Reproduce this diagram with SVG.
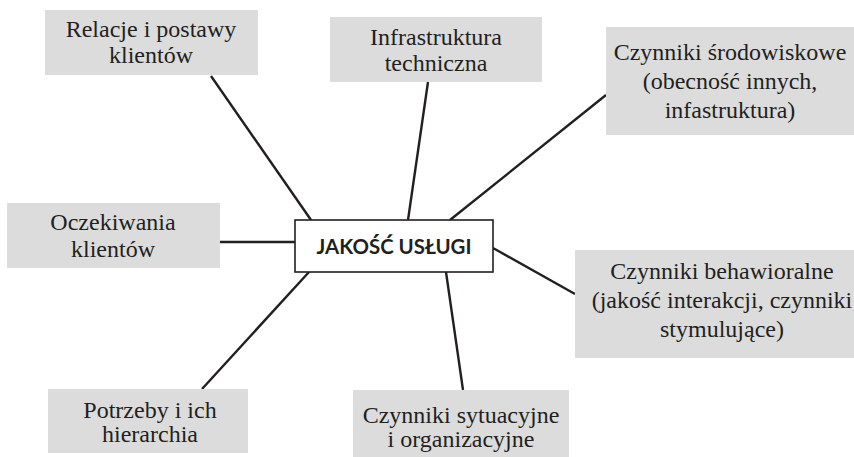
<svg xmlns="http://www.w3.org/2000/svg" width="854" height="457" viewBox="0 0 854 457">
  <style>
    .box { fill: #dcdcdc; stroke: none; }
    .core { fill: #ffffff; stroke: #231f20; stroke-width: 1.6; }
    .lbl { font-family: 'Liberation Serif', 'DejaVu Serif', serif; font-size: 24px; fill: #231f20; text-anchor: middle; }
    .core-lbl { font-family: Lato, 'Open Sans', 'DejaVu Sans', sans-serif; font-weight: bold; font-size: 20px; fill: #231f20; text-anchor: middle; }
    .link { stroke: #231f20; stroke-width: 2.4; fill: none; }
  </style>

  <!-- connectors from the central node to each factor -->
  <g id="connectors">
    <line class="link" x1="211" y1="76" x2="311" y2="220"/>
    <line class="link" x1="428" y1="82" x2="408" y2="220"/>
    <line class="link" x1="606" y1="95" x2="450" y2="220"/>
    <line class="link" x1="220" y1="242" x2="295" y2="242"/>
    <line class="link" x1="493" y1="248" x2="575" y2="294"/>
    <line class="link" x1="446" y1="272" x2="463" y2="390"/>
    <line class="link" x1="309" y1="272" x2="202" y2="389"/>
  </g>

  <g id="relacje">
    <rect class="box" x="45" y="10" width="213" height="65"/>
    <text class="lbl" x="151" y="37">Relacje i postawy</text>
    <text class="lbl" x="151" y="63">klientów</text>
  </g>

  <g id="infrastruktura">
    <rect class="box" x="330" y="17" width="212" height="65"/>
    <text class="lbl" x="436" y="45">Infrastruktura</text>
    <text class="lbl" x="436" y="71">techniczna</text>
  </g>

  <g id="srodowiskowe">
    <rect class="box" x="606" y="27" width="248" height="108"/>
    <text class="lbl" x="730" y="60">Czynniki środowiskowe</text>
    <text class="lbl" x="730" y="89">(obecność innych,</text>
    <text class="lbl" x="730" y="118">infastruktura)</text>
  </g>

  <g id="oczekiwania">
    <rect class="box" x="7" y="203" width="213" height="65"/>
    <text class="lbl" x="113" y="230">Oczekiwania</text>
    <text class="lbl" x="113" y="257">klientów</text>
  </g>

  <g id="jakosc">
    <rect class="core" x="295" y="220" width="198" height="52"/>
    <text class="core-lbl" x="394" y="254" textLength="155" lengthAdjust="spacingAndGlyphs">JAKOŚĆ USŁUGI</text>
  </g>

  <g id="behawioralne">
    <rect class="box" x="575" y="250" width="279" height="108"/>
    <text class="lbl" x="722" y="279">Czynniki behawioralne</text>
    <text class="lbl" x="722" y="308">(jakość interakcji, czynniki</text>
    <text class="lbl" x="722" y="337">stymulujące)</text>
  </g>

  <g id="potrzeby">
    <rect class="box" x="48" y="389" width="200" height="64"/>
    <text class="lbl" x="150" y="418">Potrzeby i ich</text>
    <text class="lbl" x="150" y="442">hierarchia</text>
  </g>

  <g id="sytuacyjne">
    <rect class="box" x="353" y="390" width="216" height="67"/>
    <text class="lbl" x="461" y="423">Czynniki sytuacyjne</text>
    <text class="lbl" x="461" y="447">i organizacyjne</text>
  </g>
</svg>
